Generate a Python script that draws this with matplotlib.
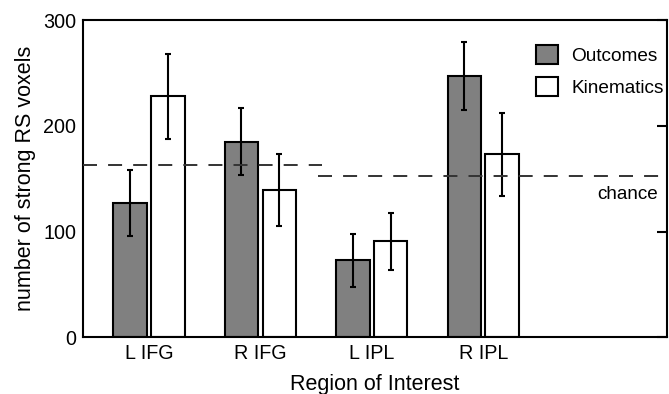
import numpy as np
import matplotlib
matplotlib.use("Agg")
import matplotlib.pyplot as plt

# values
regions = ["L IFG", "R IFG", "L IPL", "R IPL"]
outcomes = [127, 185, 73, 247]
outcomes_err = [31, 31.5, 25, 32]
kinematics = [228, 139, 91, 173]
kinematics_err = [40, 34, 27, 39]
chance_ifg = 163
chance_ipl = 153

plt.rcParams["font.family"] = ["Liberation Sans", "DejaVu Sans"]
plt.rcParams["font.size"] = 14

fig = plt.figure(figsize=(6.69, 3.94), dpi=100)
ax = fig.add_axes([0.1245, 0.144, 0.8725, 0.805])

x = np.arange(len(regions))
w = 0.30
off = 0.17
ekw = dict(elinewidth=1.5, capthick=1.5, ecolor="black")

ax.bar(x - off, outcomes, w, yerr=outcomes_err, capsize=2.3, color="#808080",
       edgecolor="black", linewidth=1.5, error_kw=ekw, label="Outcomes", zorder=2)
ax.bar(x + off, kinematics, w, yerr=kinematics_err, capsize=2.3, color="white",
       edgecolor="black", linewidth=1.5, error_kw=ekw, label="Kinematics", zorder=2)

# chance levels (one for IFG, one for IPL)
dash = dict(color="#333333", linewidth=1.4, linestyle=(0, (7.2, 5.7)), zorder=3)
ax.plot([-0.59, 1.55], [chance_ifg, chance_ifg], **dash)
ax.plot([1.52, 4.65], [chance_ipl, chance_ipl], **dash)
ax.text(4.57, 135, "chance", ha="right", va="center", fontsize=13.6)

ax.set_xlim(-0.59, 4.65)
ax.set_ylim(0, 300)
ax.set_xticks(x)
ax.set_xticklabels(regions)
ax.set_yticks([0, 100, 200, 300])
ax.tick_params(axis="x", length=0, pad=5, labelsize=14.2)
ax.tick_params(axis="y", left=False, right=True, direction="in", length=7,
               width=1.5, pad=5, labelsize=14.2)
for s in ax.spines.values():
    s.set_linewidth(1.5)

ax.set_ylabel("number of strong RS voxels", fontsize=15.5, labelpad=5)
ax.set_xlabel("Region of Interest", fontsize=15.5, labelpad=8)

ax.legend(loc="upper left", bbox_to_anchor=(536 / 669, 1 - 45 / 394),
          bbox_transform=fig.transFigure, frameon=False, borderpad=0,
          borderaxespad=0, handlelength=1.15, handleheight=1.15,
          handletextpad=0.7, labelspacing=0.62, fontsize=13.7)

fig.savefig("out.png", dpi=100)
